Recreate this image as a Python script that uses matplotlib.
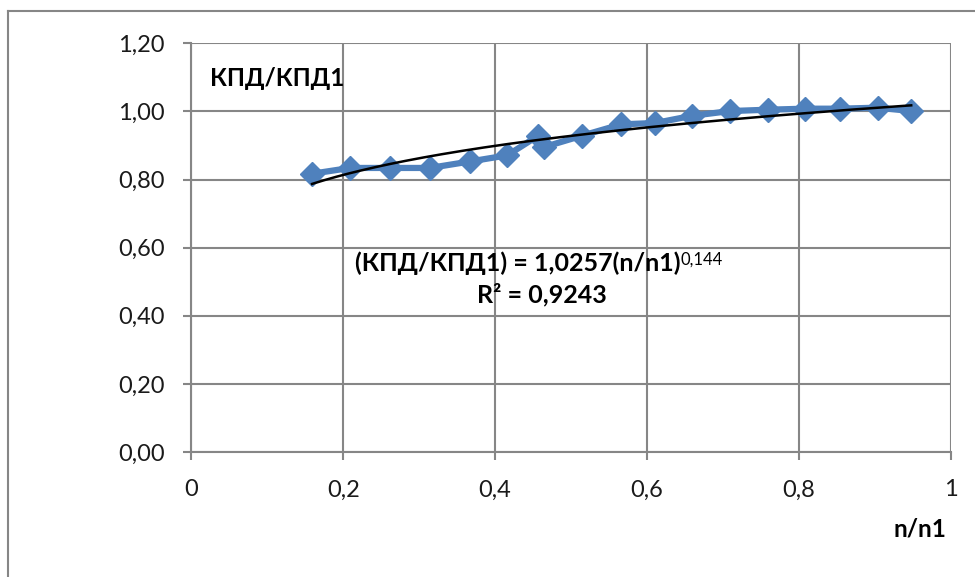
import numpy as np
import matplotlib
matplotlib.use("Agg")
import matplotlib.pyplot as plt
from matplotlib.lines import Line2D
from matplotlib.ticker import FuncFormatter, MultipleLocator

plt.rcParams["font.family"] = ["Lato", "Open Sans", "DejaVu Sans"]

# ----------------------
# Data
# ----------------------
n_ratio = [0.159, 0.209, 0.261, 0.314, 0.367, 0.416, 0.457, 0.464, 0.515,
           0.566, 0.611, 0.659, 0.709, 0.759, 0.808, 0.854, 0.904, 0.948]
kpd_ratio = [0.817, 0.834, 0.834, 0.834, 0.853, 0.871, 0.929, 0.895, 0.929,
             0.962, 0.966, 0.987, 1.001, 1.005, 1.008, 1.008, 1.011, 1.001]

# power trend from the chart label
coef_a = 1.0257
coef_b = 0.144
eq_text = "(КПД/КПД1) = 1,0257(n/n1)"
eq_sup = "0,144"
r2_text = "R² = 0,9243"

GRID = "#868686"
BLUE = "#4F81BD"

fig = plt.figure(figsize=(9.75, 5.77), dpi=100)
ax = fig.add_axes([191.3 / 975, 125 / 577, 759.4 / 975, 408.7 / 577])

# series
ax.plot(n_ratio, kpd_ratio, color=BLUE, lw=4.5, marker="D", ms=12,
        mfc=BLUE, mec=BLUE, zorder=3, solid_joinstyle="round")

# trend line
xt = np.linspace(min(n_ratio), max(n_ratio), 200)
ax.plot(xt, coef_a * xt ** coef_b, color="black", lw=1.8, zorder=4)

ax.set_xlim(0, 1)
ax.set_ylim(0, 1.2)
ax.xaxis.set_major_locator(MultipleLocator(0.2))
ax.yaxis.set_major_locator(MultipleLocator(0.2))
ax.xaxis.set_major_formatter(FuncFormatter(lambda v, p: ("%g" % round(v, 1)).replace(".", ",")))
ax.yaxis.set_major_formatter(FuncFormatter(lambda v, p: ("%.2f" % v).replace(".", ",")))

ax.grid(True, color=GRID, lw=1.5)
ax.set_axisbelow(True)
for s in ["top", "right"]:
    ax.spines[s].set_visible(False)
for s in ["left", "bottom"]:
    ax.spines[s].set_color(GRID)
    ax.spines[s].set_linewidth(1.5)
ax.tick_params(axis="both", direction="out", length=5.8, width=1.5, color=GRID,
               labelsize=17, labelcolor="#1a1a1a")
ax.tick_params(axis="y", pad=13.5)
ax.tick_params(axis="x", pad=14)

# labels
ax.text(0.0246, 1.098, "КПД/КПД1", fontsize=17.5, fontweight="bold",
        ha="left", va="center")
fig.text(946.7 / 975, 1 - 529 / 577, "n/n1", fontsize=17.5, fontweight="bold",
         ha="right", va="center")

t1 = ax.text(0.2156, 0.555, eq_text, fontsize=18, fontweight="bold",
             ha="left", va="center", zorder=5)
ax.annotate(eq_sup, xy=(1, 1), xycoords=t1, xytext=(0, 0), textcoords="offset points",
            fontsize=12, ha="left", va="top", zorder=5)
ax.text(0.4614, 0.461, r2_text, fontsize=18, fontweight="bold",
        ha="center", va="center", zorder=5)

# outer chart frame
fig.add_artist(Line2D([8 / 975, 8 / 975], [0, 1 - 11 / 577], transform=fig.transFigure,
                      color=GRID, lw=1.5))
fig.add_artist(Line2D([8 / 975, 1], [1 - 11 / 577, 1 - 11 / 577], transform=fig.transFigure,
                      color=GRID, lw=1.5))

fig.savefig("out.png", dpi=100)
